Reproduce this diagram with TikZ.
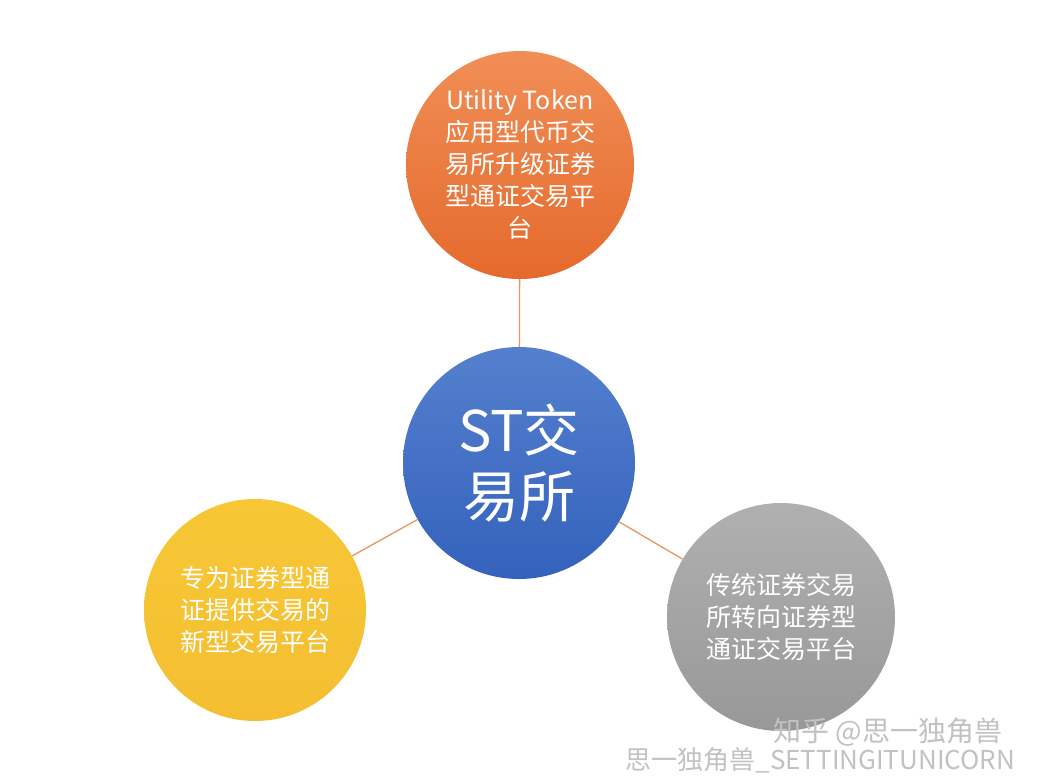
\documentclass[tikz,border=0pt]{standalone}
\usepackage{fontspec}
\newfontfamily\cjk{Noto Sans CJK SC}
\begin{document}
\begin{tikzpicture}[x=1pt,y=-1pt,
  bubble/.style={circle, inner sep=0pt, text=white, align=center, font=\cjk\fontsize{25}{32}\selectfont},
  link/.style={draw={rgb,255:red,232;green,150;blue,90}, line width=1.3pt},
  wmark/.style={text=black!24}]
\useasboundingbox (0,0) rectangle (1060,782);
\fill[white] (0,0) rectangle (1060,782);
\node[bubble, minimum size=228pt, top color={rgb,255:red,241;green,142;blue,86}, bottom color={rgb,255:red,228;green,106;blue,44}] (top) at (520,165) {Utility Token\\应用型代币交\\易所升级证券\\型通证交易平\\台};
\node[bubble, minimum size=232pt, top color={rgb,255:red,84;green,128;blue,206}, bottom color={rgb,255:red,52;green,98;blue,188}, font=\cjk\fontsize{56}{66}\selectfont] (mid) at (519,463) {ST交\\易所};
\node[bubble, minimum size=222pt, top color={rgb,255:red,247;green,199;blue,54}, bottom color={rgb,255:red,244;green,190;blue,48}] (left) at (255,610) {专为证券型通\\证提供交易的\\新型交易平台};
\node[bubble, minimum size=228pt, top color={rgb,255:red,176;green,176;blue,176}, bottom color={rgb,255:red,152;green,152;blue,152}] (right) at (781,617) {传统证券交易\\所转向证券型\\通证交易平台};
\draw[link] (top) -- (mid);
\draw[link] (mid) -- (left);
\draw[link] (mid) -- (right);
\node[wmark, font=\cjk\fontsize{26}{28}\selectfont, anchor=west] (wb) at (622,760) {思一独角兽\_SETTINGITUNICORN};
\node[wmark, font=\cjk\fontsize{28}{30}\selectfont, anchor=west] (zh) at (770,732) {知乎 @思一独角兽};
\end{tikzpicture}
\end{document}
